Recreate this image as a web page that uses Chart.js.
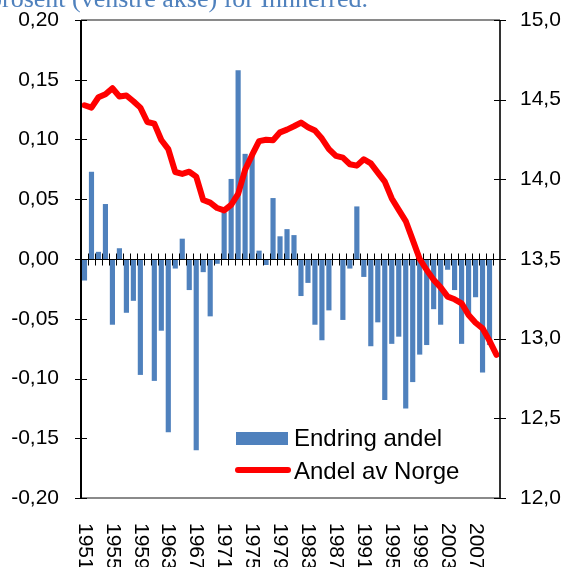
<!DOCTYPE html>
<html lang="no">
<head>
<meta charset="utf-8">
<title>Andel av Norge</title>
<script src="https://cdn.jsdelivr.net/npm/chart.js@4"></script>
<style>
  html, body { margin: 0; padding: 0; background: #fff; }
  #graf { display: block; }
</style>
</head>
<body>
<canvas id="graf" width="567" height="567"></canvas>
<script>
// Data lest av figuren
const aar = [
  1951, 1952, 1953, 1954, 1955, 1956, 1957, 1958, 1959, 1960,
  1961, 1962, 1963, 1964, 1965, 1966, 1967, 1968, 1969, 1970,
  1971, 1972, 1973, 1974, 1975, 1976, 1977, 1978, 1979, 1980,
  1981, 1982, 1983, 1984, 1985, 1986, 1987, 1988, 1989, 1990,
  1991, 1992, 1993, 1994, 1995, 1996, 1997, 1998, 1999, 2000,
  2001, 2002, 2003, 2004, 2005, 2006, 2007, 2008, 2009, 2010
];
const endringAndel = [
  -0.018, 0.073, 0.006, 0.046, -0.055, 0.009, -0.045, -0.035, -0.097, 0.000,
  -0.102, -0.060, -0.145, -0.008, 0.017, -0.026, -0.160, -0.011, -0.048, -0.004,
  0.039, 0.067, 0.158, 0.088, 0.088, 0.007, -0.005, 0.051, 0.019, 0.025,
  0.020, -0.031, -0.020, -0.055, -0.068, -0.043, 0.000, -0.051, -0.008, 0.044,
  -0.015, -0.073, -0.053, -0.118, -0.071, -0.065, -0.125, -0.103, -0.080, -0.072,
  -0.042, -0.055, -0.009, -0.026, -0.071, -0.048, -0.032, -0.095, -0.072, null
];
const andelAvNorge = [
  14.465, 14.45, 14.515, 14.534, 14.572, 14.52, 14.526, 14.49, 14.45, 14.36,
  14.35, 14.247, 14.19, 14.046, 14.034, 14.048, 14.017, 13.87, 13.854, 13.82,
  13.805, 13.84, 13.908, 14.06, 14.153, 14.24, 14.248, 14.245, 14.295, 14.312,
  14.333, 14.356, 14.327, 14.306, 14.256, 14.19, 14.147, 14.136, 14.095, 14.086,
  14.126, 14.10, 14.042, 13.986, 13.88, 13.808, 13.738, 13.62, 13.50, 13.431,
  13.369, 13.322, 13.264, 13.247, 13.222, 13.149, 13.10, 13.065, 12.986, 12.898
];
const aarEtiketter = ['1951', '1955', '1959', '1963', '1967', '1971', '1975', '1979',
  '1983', '1987', '1991', '1995', '1999', '2003', '2007'];
const tittel = 'prosent (venstre akse) for Innherred.';

const skrift = '"Liberation Sans", Arial, sans-serif';

// Egen tegning av akser, etiketter og forklaring
const aksePlugin = {
  id: 'akser',
  afterDatasetDraw(chart, args) {
    // nullinja tegnes over søylene, men under linja
    if (args.meta.type !== 'bar') return;
    const { ctx, chartArea } = chart;
    const x = chart.scales.x;
    const y = chart.scales.y;
    const y0 = Math.round(y.getPixelForValue(0)) + 0.5;
    const steg = x.getPixelForValue(1) - x.getPixelForValue(0);
    const start = x.getPixelForValue(0) - steg / 2;
    ctx.save();
    ctx.strokeStyle = '#000';
    ctx.lineWidth = 1;
    ctx.beginPath();
    ctx.moveTo(chartArea.left, y0);
    ctx.lineTo(chartArea.right, y0);
    for (let i = 0; i <= aar.length; i++) {
      const px = Math.round(start + i * steg) + 0.5;
      ctx.moveTo(px, y0 - 6);
      ctx.lineTo(px, y0 + 6);
    }
    ctx.stroke();
    ctx.restore();
  },
  afterDraw(chart) {
    const { ctx, chartArea } = chart;
    const { left, right, top, bottom } = chartArea;
    ctx.save();

    // ramme
    ctx.strokeStyle = '#8a8a8a';
    ctx.lineWidth = 2;
    ctx.beginPath();
    ctx.moveTo(left, top); ctx.lineTo(right, top);
    ctx.moveTo(left, bottom); ctx.lineTo(right, bottom);
    ctx.stroke();

    ctx.strokeStyle = '#000';
    ctx.lineWidth = 2;
    ctx.beginPath();
    ctx.moveTo(left, top); ctx.lineTo(left, bottom);
    ctx.stroke();
    ctx.strokeStyle = '#333';
    ctx.beginPath();
    ctx.moveTo(right, top); ctx.lineTo(right, bottom);
    ctx.stroke();

    // kryssende merker på begge verdiaksene
    ctx.strokeStyle = '#000';
    ctx.lineWidth = 1;
    ctx.beginPath();
    chart.scales.y.ticks.forEach(t => {
      const py = Math.round(chart.scales.y.getPixelForValue(t.value)) + 0.5;
      ctx.moveTo(left - 6, py); ctx.lineTo(left + 6, py);
    });
    chart.scales.y1.ticks.forEach(t => {
      const py = Math.round(chart.scales.y1.getPixelForValue(t.value)) + 0.5;
      ctx.moveTo(right - 6, py); ctx.lineTo(right + 6, py);
    });
    ctx.stroke();

    // årstall, rotert med klokka
    ctx.fillStyle = '#000';
    ctx.font = '21px ' + skrift;
    ctx.textAlign = 'left';
    ctx.textBaseline = 'middle';
    aar.forEach((a, i) => {
      if (!aarEtiketter.includes(String(a))) return;
      const px = chart.scales.x.getPixelForValue(i);
      ctx.save();
      ctx.translate(px, bottom + 25);
      ctx.rotate(Math.PI / 2);
      ctx.fillText(String(a), 0, 0);
      ctx.restore();
    });

    // forklaring inne i plottet
    const [soyler, linje] = chart.data.datasets;
    ctx.font = '24px ' + skrift;
    ctx.fillStyle = soyler.backgroundColor;
    ctx.fillRect(236, 432, 52, 13);
    ctx.fillStyle = '#000';
    ctx.fillText(soyler.label, 294, 439);
    ctx.strokeStyle = linje.borderColor;
    ctx.lineWidth = 6;
    ctx.lineCap = 'round';
    ctx.beginPath();
    ctx.moveTo(238, 470); ctx.lineTo(288, 470);
    ctx.stroke();
    ctx.fillText(linje.label, 294, 472);

    // avkuttet tittel øverst
    ctx.font = '26px "Liberation Serif", "Times New Roman", serif';
    ctx.fillStyle = '#4F81BD';
    ctx.textBaseline = 'alphabetic';
    const bredde = ctx.measureText(tittel).width;
    ctx.fillText(tittel, 368 - bredde, 7);

    ctx.restore();
  }
};

document.addEventListener('DOMContentLoaded', function() {
  const lerret = document.getElementById('graf');

  new Chart(lerret, {
    type: 'bar',
    data: {
      labels: aar.map(String),
      datasets: [
        {
          type: 'bar',
          label: 'Endring andel',
          data: endringAndel,
          backgroundColor: '#4F81BD',
          borderWidth: 0,
          barPercentage: 0.74,
          categoryPercentage: 1.0,
          yAxisID: 'y',
          order: 2
        },
        {
          type: 'line',
          label: 'Andel av Norge',
          data: andelAvNorge,
          borderColor: '#FF0000',
          backgroundColor: '#FF0000',
          borderWidth: 6,
          pointRadius: 0,
          tension: 0,
          borderJoinStyle: 'round',
          borderCapStyle: 'round',
          yAxisID: 'y1',
          order: 1
        }
      ]
    },
    options: {
      responsive: false,
      animation: false,
      devicePixelRatio: 1,
      layout: { padding: { top: 20, left: 0, right: 0, bottom: 0 } },
      plugins: {
        legend: { display: false },
        tooltip: { enabled: false }
      },
      scales: {
        x: {
          type: 'category',
          offset: true,
          grid: { display: false, drawTicks: false },
          border: { display: false },
          ticks: { display: false },
          afterFit(s) { s.height = 69; }
        },
        y: {
          position: 'left',
          min: -0.2,
          max: 0.2,
          grid: { display: false, drawTicks: false },
          border: { display: false },
          ticks: {
            stepSize: 0.05,
            padding: 22,
            color: '#000',
            font: { family: skrift, size: 21 },
            callback: v => v.toFixed(2).replace('.', ',')
          },
          afterFit(s) { s.width = 81; s.paddingTop = 0; s.paddingBottom = 0; }
        },
        y1: {
          position: 'right',
          min: 12,
          max: 15,
          grid: { display: false, drawTicks: false },
          border: { display: false },
          ticks: {
            stepSize: 0.5,
            padding: 20,
            color: '#000',
            font: { family: skrift, size: 21 },
            callback: v => v.toFixed(1).replace('.', ',')
          },
          afterFit(s) { s.width = 67; s.paddingTop = 0; s.paddingBottom = 0; }
        }
      }
    },
    plugins: [aksePlugin]
  });
});
</script>
</body>
</html>
